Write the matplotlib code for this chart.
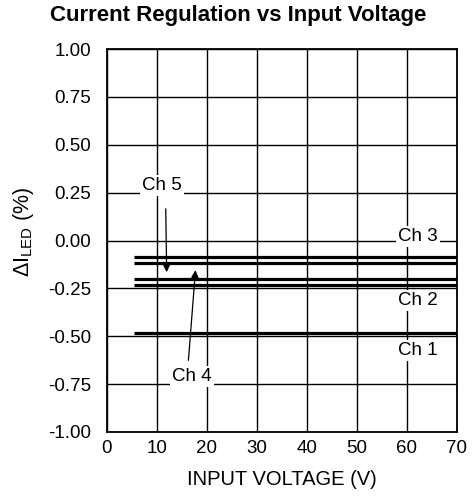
import matplotlib
matplotlib.use("Agg")
import matplotlib.pyplot as plt

plt.rcParams['font.family'] = ['Liberation Sans', 'DejaVu Sans']
plt.rcParams['mathtext.fontset'] = 'custom'
plt.rcParams['mathtext.rm'] = 'Liberation Sans'
plt.rcParams['mathtext.it'] = 'Liberation Sans:italic'

# data
x_start = 5.5
x_end = 70
ch_levels = [-0.085, -0.115, -0.20, -0.23, -0.485]
xticks = [0, 10, 20, 30, 40, 50, 60, 70]
yticks = [1.00, 0.75, 0.50, 0.25, 0.00, -0.25, -0.50, -0.75, -1.00]
ytick_labels = ["1.00", "0.75", "0.50", "0.25", "0.00", "-0.25", "-0.50", "-0.75", "-1.00"]

fig = plt.figure(figsize=(4.77, 4.97), dpi=100)
ax = fig.add_axes([106.7/477, 1 - 432/497, 350/477, 383/497])

for lv in ch_levels:
    ax.plot([x_start, x_end], [lv, lv], color='black', lw=2.3, solid_capstyle='butt', zorder=3)

ax.set_xlim(0, 70)
ax.set_ylim(-1.0, 1.0)
ax.set_xticks(xticks)
ax.set_yticks(yticks)
ax.set_yticklabels(ytick_labels)
ax.grid(True, color='black', lw=1.0)
ax.set_axisbelow(True)
ax.tick_params(axis='y', length=0, labelsize=13.5, pad=11)
ax.tick_params(axis='x', length=0, labelsize=13.5, pad=6)
for s in ax.spines.values():
    s.set_linewidth(1.3)

bbox = dict(facecolor='white', edgecolor='none', pad=1.5)
fs = 13.5
ax.text(62.3, 0.02, "Ch 3", ha='center', va='center', fontsize=fs, bbox=bbox, zorder=4)
ax.text(62.3, -0.315, "Ch 2", ha='center', va='center', fontsize=fs, bbox=bbox, zorder=4)
ax.text(62.3, -0.575, "Ch 1", ha='center', va='center', fontsize=fs, bbox=bbox, zorder=4)
ax.text(11.0, 0.285, "Ch 5", ha='center', va='center', fontsize=fs, bbox=bbox, zorder=4)
ax.text(17.0, -0.71, "Ch 4", ha='center', va='center', fontsize=fs, bbox=bbox, zorder=4)

ax.annotate("", xy=(12.0, -0.18), xytext=(11.8, 0.18),
            arrowprops=dict(arrowstyle='-|>', color='black', lw=0.9, mutation_scale=11), zorder=5)
ax.annotate("", xy=(17.8, -0.14), xytext=(16.3, -0.64),
            arrowprops=dict(arrowstyle='-|>', color='black', lw=0.9, mutation_scale=11), zorder=5)

ax.set_xlabel("INPUT VOLTAGE (V)", fontsize=14.5, labelpad=9)
fig.text(24/477, 1 - 232/497, r"$\Delta$I$_{\mathrm{LED}}$ (%)", rotation=90,
         ha='center', va='center', fontsize=15.5)
fig.text(238/477, 1 - 16/497, "Current Regulation vs Input Voltage", ha='center', va='center',
         fontsize=16, fontweight='bold')

fig.savefig("out.png", dpi=100)
